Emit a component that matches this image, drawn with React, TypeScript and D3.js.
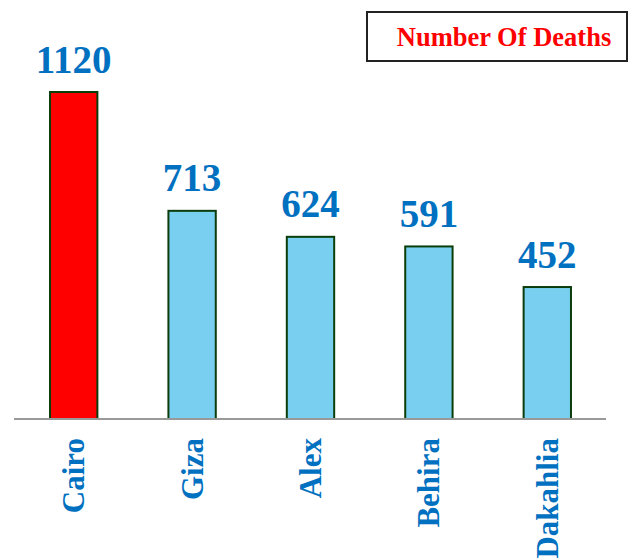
import * as d3 from "d3";
import React from "react";

const categories = ["Cairo", "Giza", "Alex", "Behira", "Dakahlia"];
const deaths = [1120, 713, 624, 591, 452];
const legendLabel = "Number Of Deaths";

const width = 638;
const height = 560;
const baseline = 419;
const font = "'Liberation Serif', 'Times New Roman', serif";

export default function App() {
    const x = d3
        .scaleBand<string>()
        .domain(categories)
        .range([14.5, 606.5])
        .paddingInner(0.6)
        .paddingOuter(0.3);
    const y = d3.scaleLinear().domain([0, 1120]).range([baseline, 92]);

    return (
        <svg
            width={width}
            height={height}
            style={{ position: "absolute", left: 0, top: 0, background: "#fff" }}
        >
            {/* bars */}
            {categories.map((c, i) => (
                <rect
                    key={c}
                    x={x(c)}
                    y={y(deaths[i])}
                    width={x.bandwidth()}
                    height={baseline - y(deaths[i])}
                    fill={i === 0 ? "#FF0000" : "#79CFEF"}
                    stroke="#0B3D0B"
                    strokeWidth={2}
                />
            ))}
            {/* baseline */}
            <line x1={14} x2={606} y1={baseline} y2={baseline} stroke="#999" strokeWidth={2} />
            {/* value labels */}
            {categories.map((c, i) => (
                <text
                    key={c + "-v"}
                    x={(x(c) ?? 0) + x.bandwidth() / 2}
                    y={y(deaths[i]) - 19.5}
                    textAnchor="middle"
                    fontFamily={font}
                    fontWeight="bold"
                    fontSize={39}
                    fill="#0070C0"
                >
                    {deaths[i]}
                </text>
            ))}
            {/* category labels */}
            {categories.map((c) => {
                const cx = (x(c) ?? 0) + x.bandwidth() / 2 + 10.5;
                return (
                    <text
                        key={c + "-l"}
                        transform={`translate(${cx},${438}) rotate(-90)`}
                        textAnchor="end"
                        fontFamily={font}
                        fontWeight="bold"
                        fontSize={31}
                        fill="#0070C0"
                    >
                        {c}
                    </text>
                );
            })}
            {/* legend box */}
            <rect x={367} y={12} width={260} height={49} fill="#fff" stroke="#222" strokeWidth={2} />
            <text
                x={504}
                y={46}
                textAnchor="middle"
                fontFamily={font}
                fontWeight="bold"
                fontSize={26.5}
                fill="#FF0000"
            >
                {legendLabel}
            </text>
        </svg>
    );
}
